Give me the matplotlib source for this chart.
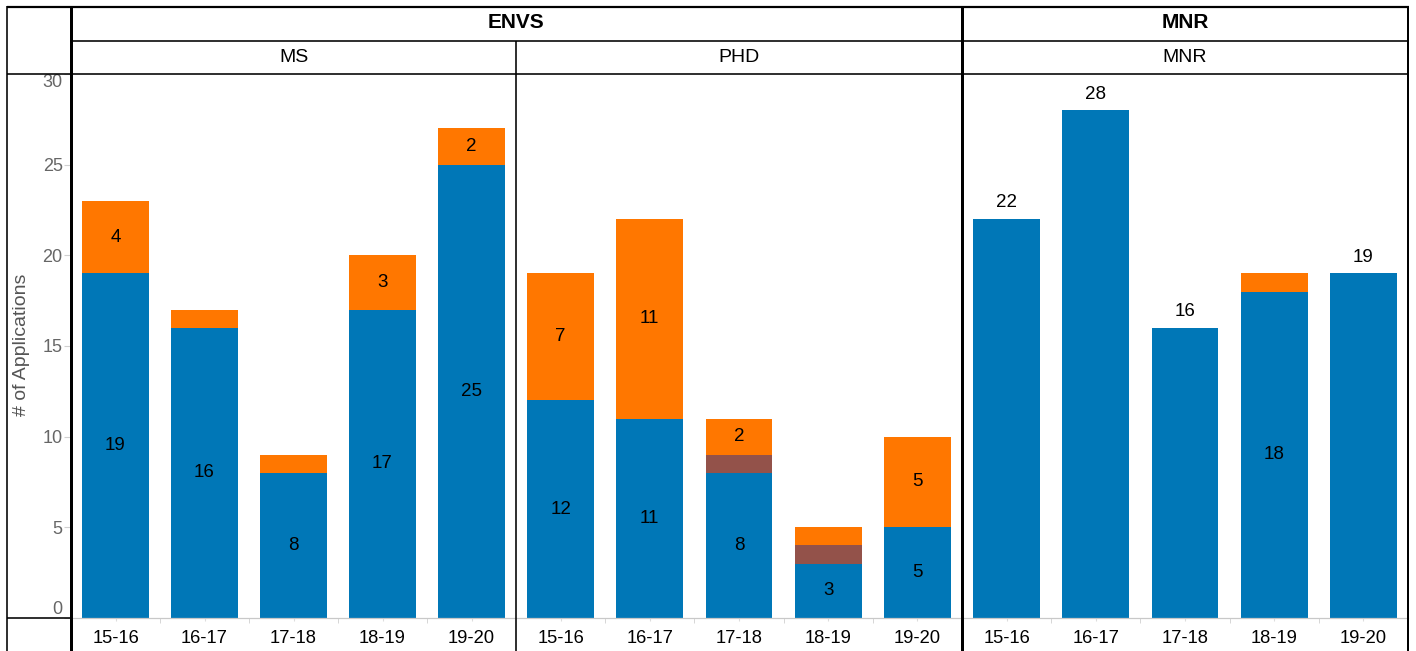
import matplotlib.pyplot as plt
from matplotlib.lines import Line2D

plt.rcParams['font.family'] = ['Liberation Sans', 'DejaVu Sans']

# data
years = ['15-16', '16-17', '17-18', '18-19', '19-20']
ms_blue = [19, 16, 8, 17, 25]
ms_brown = [0, 0, 0, 0, 0]
ms_orange = [4, 1, 1, 3, 2]
phd_blue = [12, 11, 8, 3, 5]
phd_brown = [0, 0, 1, 1, 0]
phd_orange = [7, 11, 2, 1, 5]
mnr_blue = [22, 28, 16, 18, 19]
mnr_brown = [0, 0, 0, 0, 0]
mnr_orange = [0, 0, 0, 1, 0]
y_ticks = [0, 5, 10, 15, 20, 25, 30]

BLUE = '#0077b7'
BROWN = '#93524a'
ORANGE = '#ff7700'

W, H = 1416, 651
fig = plt.figure(figsize=(W / 100, H / 100), dpi=100)


def fx(x):
    return x / W


def fy(y):
    return 1 - y / H


def hline(y, x0, x1, lw, color='black'):
    fig.add_artist(Line2D([fx(x0), fx(x1)], [fy(y), fy(y)], lw=lw * 0.72, color=color,
                          transform=fig.transFigure, solid_capstyle='butt'))


def vline(x, y0, y1, lw, color='black'):
    fig.add_artist(Line2D([fx(x), fx(x)], [fy(y0), fy(y1)], lw=lw * 0.72, color=color,
                          transform=fig.transFigure, solid_capstyle='butt'))


plot_top, plot_bot = 74, 618
panels = [
    (71, 516, ms_blue, ms_brown, ms_orange, False),
    (516, 962, phd_blue, phd_brown, phd_orange, False),
    (962, 1408, mnr_blue, mnr_brown, mnr_orange, True),
]

for k, (x0, x1, blue, brown, orange, top_labels) in enumerate(panels):
    ax = fig.add_axes([fx(x0), fy(plot_bot), (x1 - x0) / W, (plot_bot - plot_top) / H])
    xs = range(len(years))
    ax.bar(xs, blue, width=0.75, color=BLUE)
    ax.bar(xs, brown, width=0.75, bottom=blue, color=BROWN)
    bottom3 = [b + r for b, r in zip(blue, brown)]
    ax.bar(xs, orange, width=0.75, bottom=bottom3, color=ORANGE)

    for i in xs:
        segs = [(0, blue[i]), (blue[i], brown[i]), (blue[i] + brown[i], orange[i])]
        nonzero = [s for s in segs if s[1] > 0]
        if top_labels and len(nonzero) == 1:
            ax.text(i, blue[i] + 0.42, str(blue[i]), ha='center', va='bottom', fontsize=13.5)
            continue
        for base, v in segs:
            if v > 1:
                ax.text(i, base + v / 2, str(v), ha='center', va='center', fontsize=13.5)

    ax.set_xlim(-0.5, 4.5)
    ax.set_ylim(0, 30)
    for s in ['top', 'right', 'left']:
        ax.spines[s].set_visible(False)
    ax.spines['bottom'].set_color('#c8c8c8')
    ax.spines['bottom'].set_linewidth(0.9)
    ax.set_xticks(list(xs))
    ax.set_xticklabels(years, fontsize=13.2)
    ax.set_xticks([0.5, 1.5, 2.5, 3.5], minor=True)
    ax.tick_params(axis='x', which='major', length=2.5, color='#dddddd', pad=6)
    ax.tick_params(axis='x', which='minor', length=3.5, color='#d0d0d0')

    if k == 0:
        ax.set_yticks(y_ticks)
        ax.set_yticklabels([str(t) for t in y_ticks], fontsize=13, color='#666666')
        ax.tick_params(axis='y', length=5, color='#d0d0d0', pad=1)
        ticks = ax.yaxis.get_major_ticks()
        ticks[0].label1.set_va('bottom')
        ticks[-1].label1.set_va('top')
    else:
        ax.set_yticks([])

# frame / header lines
hline(7, 7, 1409, 2.2)
vline(7, 6, 651, 1.6)
hline(41, 71, 1409, 1.6)
hline(74, 7, 1409, 1.6)
hline(618, 7, 71, 1.6)
vline(71, 6, 651, 3)
vline(516, 41, 651, 1.6)
vline(962, 6, 651, 3)
vline(1408, 6, 651, 2)

# header text
fig.text(fx(516), fy(23), 'ENVS', ha='center', va='center', fontsize=15, fontweight='bold')
fig.text(fx(1185), fy(23), 'MNR', ha='center', va='center', fontsize=15, fontweight='bold')
fig.text(fx(294), fy(57), 'MS', ha='center', va='center', fontsize=14)
fig.text(fx(739), fy(57), 'PHD', ha='center', va='center', fontsize=14)
fig.text(fx(1185), fy(57), 'MNR', ha='center', va='center', fontsize=14)
fig.text(fx(22), fy(345), '# of Applications', ha='center', va='center', rotation=90,
         fontsize=14, color='#555555')

fig.savefig('out.png', dpi=100)
